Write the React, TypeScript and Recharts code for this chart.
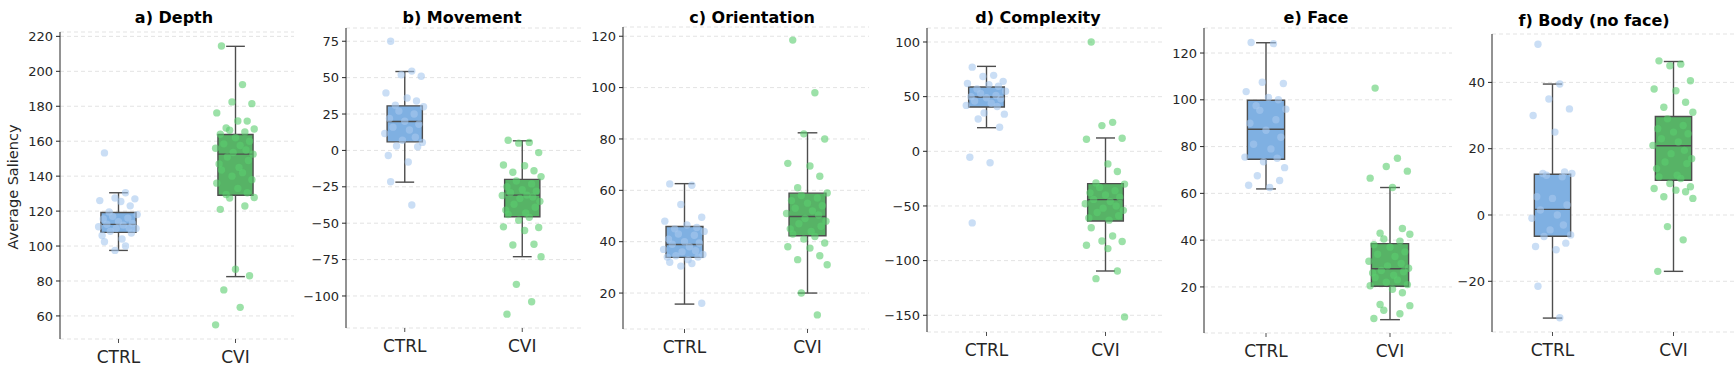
import React from "react";
import {
  ComposedChart,
  Scatter,
  XAxis,
  YAxis,
  CartesianGrid,
  ReferenceArea,
  ReferenceLine,
} from "recharts";

const CATEGORIES = ["CTRL", "CVI"];
const TITLES = [
  "a) Depth",
  "b) Movement",
  "c) Orientation",
  "d) Complexity",
  "e) Face",
  "f) Body (no face)",
];

// box stats: [lower whisker, q1, median, q3, upper whisker]
const depthCtrl = [153.3, 130.5, 127.5, 127, 126, 125.5, 123, 119.5, 118, 117, 116, 115.5, 114, 113, 112.5, 112, 111, 110.5, 110, 110, 108.5, 107.5, 106, 104, 102.5, 100, 97.5];
const depthCvi = [214.5, 192.4, 182.5, 181.5, 176.2, 171.6, 171.5, 167.6, 167, 166.3, 165.3, 164, 162, 160, 158.5, 157.5, 156, 155, 153.5, 152.6, 151, 149, 147, 145, 143.5, 142, 140, 138, 136, 133, 130.5, 129.5, 127.8, 127.5, 122.9, 121, 86.7, 83, 74.9, 64.9, 54.9];
const depthCtrlBox = [97.5, 107.8, 112.4, 119.2, 130.5];
const depthCviBox = [82.5, 129.1, 152.6, 163.8, 214.3];
const depthTicks = [60, 80, 100, 120, 140, 160, 180, 200, 220];

const movementCtrl = [75, 54.5, 52, 51, 39.5, 36, 34, 31, 30, 27, 25, 22, 20, 18, 16, 14, 11.6, 9, 7, 5.5, 3, 2.5, -3.5, -8, -21.5, -37.5];
const movementCvi = [7, 5.5, 5, -1.5, -10, -10.5, -14, -15, -18, -21, -23, -25, -27, -28, -29, -30.7, -31, -32, -33, -35, -37, -39, -41, -43, -44, -46, -48, -53, -52.5, -55, -64.5, -65, -73, -92, -104, -112.5];
const movementCtrlBox = [-21.8, 5.9, 19.9, 30.6, 54.2];
const movementCviBox = [-73, -45.6, -30.7, -19.9, 6.6];
const movementTicks = [-100, -75, -50, -25, 0, 25, 50, 75];

const orientationCtrl = [62.5, 62, 54.5, 49.5, 48, 46.5, 45.5, 45, 44, 43, 42.5, 41, 40, 39.5, 39, 38, 37, 36.5, 36, 35, 34.5, 34, 34, 33, 32, 31.5, 30.5, 16];
const orientationCvi = [118.5, 98, 82, 80, 70.5, 69.5, 65.5, 61, 59, 58, 57, 56, 55, 54, 53, 52, 51, 50.4, 49, 48, 47, 46, 45, 44, 43, 42, 41, 39.5, 38, 37.5, 34.5, 33, 31, 20, 11.5];
const orientationCtrlBox = [15.7, 33.9, 38.9, 45.9, 62.6];
const orientationCviBox = [20, 42.3, 49.8, 58.9, 82.4];
const orientationTicks = [20, 40, 60, 80, 100, 120];

const complexityCtrl = [77, 69.5, 68.5, 64, 62, 61, 59.5, 57, 55, 53, 51, 50, 49, 48, 46, 44, 42, 41, 35, 34, 29.5, 22, -5.5, -10.5, -65.5];
const complexityCvi = [100, 26.5, 23.5, 12, 11, -11.5, -18.5, -29, -30, -33, -36, -38, -40, -42, -44, -46, -48, -50, -52, -54, -56, -59, -61, -63, -70, -77.5, -82, -82.5, -86, -89, -109.5, -116.5, -151.5];
const complexityCtrlBox = [21.6, 40.5, 49.7, 58.8, 77.7];
const complexityCviBox = [-109.5, -63.7, -44.2, -29.6, 12.2];
const complexityTicks = [-150, -100, -50, 0, 50, 100];

const faceCtrl = [124.5, 124, 107.5, 107, 103.5, 101, 100, 97.5, 96, 95.5, 91.5, 90, 87, 84, 81, 79, 75.5, 75, 73.5, 71, 67.5, 65.5, 63.5, 62.5];
const faceCvi = [105, 75, 71.5, 69.5, 66.5, 62.5, 45, 43, 42.5, 40.5, 39.5, 38, 37, 35, 34, 33, 31, 30, 29, 28, 27, 26.5, 26, 25, 24, 23, 22, 21, 20.5, 19, 17.5, 12.5, 12, 10, 8.5, 6.5];
const faceCtrlBox = [61.9, 74.6, 87.4, 99.8, 124.4];
const faceCviBox = [6.0, 20.3, 27.8, 38.5, 62.5];
const faceTicks = [20, 40, 60, 80, 100, 120];

const bodyCtrl = [51.5, 39.5, 35, 32, 30, 25, 13, 12.5, 12.5, 12, 11.5, 5.5, 5, 3, 1.5, 0, -1, -3, -4.5, -6, -6.5, -8.5, -9.5, -10.5, -21.5, -31];
const bodyCvi = [46.5, 45.5, 45, 40.5, 38, 37.5, 34, 32.5, 31, 29, 27, 26, 25, 24.5, 23, 22, 21, 19.5, 18.5, 17, 16, 15.5, 14, 12, 11.5, 11, 9.5, 8.5, 8, 7.5, 7, 5.5, 5, -3.5, -7.5, -17];
const bodyCtrlBox = [-31.1, -6.4, 1.7, 12.3, 39.5];
const bodyCviBox = [-17, 10.5, 20.9, 29.7, 46.3];
const bodyTicks = [-20, 0, 20, 40];

// visual spread of the strip points (category units), cycled per point
const JITTER = [-0.12, 0.06, -0.03, 0.14, -0.16, 0.02, 0.1, -0.08, 0.16, -0.05, 0.08, -0.13, 0.0, 0.12, -0.1, 0.04, -0.17, 0.09, -0.02, 0.15, -0.07, 0.11, -0.14, 0.03];

const FONT = "'DejaVu Sans', sans-serif";
const TEXT = "#262626";
const EDGE = "#4d4d4d";
const BOX_FILL = ["#7fb0e2", "#57b366"];
const DOT_FILL = ["#a6c8ee", "#5acd6e"];
const BOX_HALF = 0.15;
const CAP_HALF = 0.08;

// chart placement: left edge of svg, y spine, right end, plot top, plot bottom, y domain, title centre
const LAYOUT = [
  { left: 0, spine: 60, right: 294, top: 32, bottom: 339, domain: [46.8, 222.5], tx: 174, ty: 23 },
  { left: 290, spine: 346, right: 581, top: 28, bottom: 328, domain: [-122, 84.1], tx: 462, ty: 23 },
  { left: 575, spine: 623, right: 869, top: 27, bottom: 329, domain: [6.0, 123.6], tx: 752, ty: 23 },
  { left: 870, spine: 927, right: 1165, top: 28, bottom: 332, domain: [-165.3, 112.8], tx: 1038, ty: 23 },
  { left: 1160, spine: 1204, right: 1452, top: 28, bottom: 333, domain: [0.3, 130.7], tx: 1316, ty: 23 },
  { left: 1440, spine: 1492, right: 1734, top: 34, bottom: 332, domain: [-35.3, 54.6], tx: 1594, ty: 26 },
];

const PANELS = [
  { groups: [depthCtrl, depthCvi], boxes: [depthCtrlBox, depthCviBox], ticks: depthTicks },
  { groups: [movementCtrl, movementCvi], boxes: [movementCtrlBox, movementCviBox], ticks: movementTicks },
  { groups: [orientationCtrl, orientationCvi], boxes: [orientationCtrlBox, orientationCviBox], ticks: orientationTicks },
  { groups: [complexityCtrl, complexityCvi], boxes: [complexityCtrlBox, complexityCviBox], ticks: complexityTicks },
  { groups: [faceCtrl, faceCvi], boxes: [faceCtrlBox, faceCviBox], ticks: faceTicks },
  { groups: [bodyCtrl, bodyCvi], boxes: [bodyCtrlBox, bodyCviBox], ticks: bodyTicks },
];

const fmt = (v: number) => (v < 0 ? `\u2212${Math.abs(v)}` : `${v}`);

function Panel({ index }: { index: number }) {
  const lay = LAYOUT[index];
  const panel = PANELS[index];
  const width = lay.right - lay.left;

  const boxEls: React.ReactNode[] = [];
  panel.boxes.forEach((b, g) => {
    const [lo, q1, med, q3, hi] = b;
    const seg = (key: string, x1: number, y1: number, x2: number, y2: number) => (
      <ReferenceLine
        key={`${key}-${g}`}
        segment={[{ x: x1, y: y1 }, { x: x2, y: y2 }]}
        stroke={EDGE}
        strokeWidth={1.4}
        ifOverflow="visible"
      />
    );
    boxEls.push(seg("wl", g, lo, g, q1));
    boxEls.push(seg("wh", g, q3, g, hi));
    boxEls.push(seg("cl", g - CAP_HALF, lo, g + CAP_HALF, lo));
    boxEls.push(seg("ch", g - CAP_HALF, hi, g + CAP_HALF, hi));
    boxEls.push(
      <ReferenceArea
        key={`box-${g}`}
        x1={g - BOX_HALF}
        x2={g + BOX_HALF}
        y1={q1}
        y2={q3}
        fill={BOX_FILL[g]}
        fillOpacity={1}
        stroke={EDGE}
        strokeWidth={1.4}
        ifOverflow="visible"
      />
    );
    boxEls.push(seg("md", g - BOX_HALF, med, g + BOX_HALF, med));
  });

  return (
    <div style={{ position: "absolute", left: lay.left, top: 0 }}>
      <ComposedChart
        width={width}
        height={371}
        margin={{ top: lay.top, right: 0, bottom: 0, left: 0 }}
      >
        <CartesianGrid vertical={false} strokeDasharray="4 3" stroke="#e3e3e3" />
        <XAxis
          type="number"
          dataKey="x"
          domain={[-0.5, 1.5]}
          ticks={[0, 1]}
          allowDataOverflow
          tickFormatter={(v: number) => CATEGORIES[v]}
          axisLine={false}
          tickSize={4}
          tickMargin={8}
          height={371 - lay.bottom}
          tick={{ fontSize: 17, fill: TEXT, fontFamily: FONT }}
          tickLine={{ stroke: EDGE }}
        />
        <YAxis
          type="number"
          dataKey="y"
          domain={lay.domain}
          ticks={panel.ticks}
          interval={0}
          allowDataOverflow
          width={lay.spine - lay.left}
          tickFormatter={fmt}
          tickSize={4}
          tickMargin={3}
          axisLine={{ stroke: TEXT }}
          tickLine={{ stroke: TEXT }}
          tick={{ fontSize: 13, fill: TEXT, fontFamily: FONT }}
        />
        {boxEls}
        {panel.groups.map((vals, g) => (
          <Scatter
            key={`pts-${g}`}
            data={vals.map((y, i) => ({ x: g + JITTER[i % JITTER.length], y }))}
            isAnimationActive={false}
            shape={(p: any) => (
              <circle cx={p.cx} cy={p.cy} r={3.7} fill={DOT_FILL[g]} fillOpacity={0.6} />
            )}
          />
        ))}
      </ComposedChart>
    </div>
  );
}

export default function App() {
  return (
    <div style={{ position: "absolute", left: 0, top: 0, width: 1734, height: 371, background: "#fff" }}>
      {PANELS.map((_, i) => (
        <Panel key={i} index={i} />
      ))}
      <svg
        width={1734}
        height={371}
        style={{ position: "absolute", left: 0, top: 0, pointerEvents: "none" }}
      >
        {TITLES.map((t, i) => (
          <text
            key={t}
            x={LAYOUT[i].tx}
            y={LAYOUT[i].ty}
            textAnchor="middle"
            fontFamily={FONT}
            fontWeight="bold"
            fontSize={16}
            fill="#000"
          >
            {t}
          </text>
        ))}
        <text
          transform="translate(17.5,187) rotate(-90)"
          textAnchor="middle"
          fontFamily={FONT}
          fontSize={14.5}
          fill={TEXT}
        >
          Average Saliency
        </text>
      </svg>
    </div>
  );
}
